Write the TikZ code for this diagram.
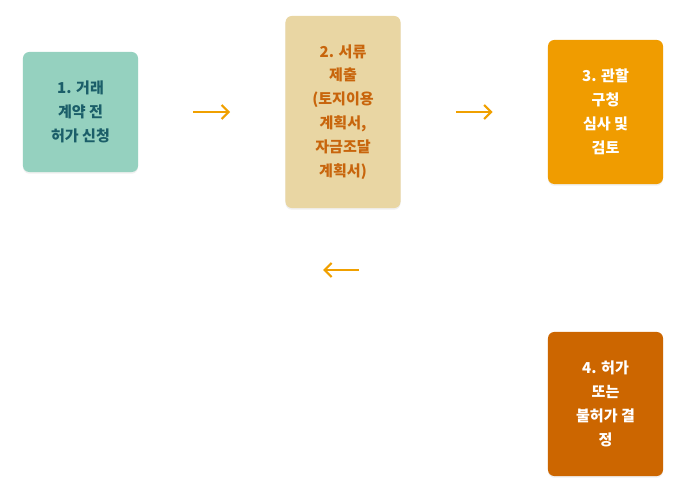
\documentclass[tikz,border=0pt]{standalone}
\usepackage{fontspec}
\setmainfont{Noto Sans CJK KR}
\usetikzlibrary{arrows.meta,positioning,shadows}
\definecolor{mintfill}{HTML}{95D1BF}
\definecolor{minttext}{HTML}{1B5E69}
\definecolor{sandfill}{HTML}{E9D6A3}
\definecolor{sandtext}{HTML}{C8650C}
\definecolor{ambfill}{HTML}{F09C00}
\definecolor{rustfill}{HTML}{CC6600}
\definecolor{arrowamb}{HTML}{F0A000}
\tikzset{
  stepbox/.style={rounded corners=4.5pt,minimum width=2.875cm,minimum height=3cm,
    align=center,font=\bfseries\fontsize{10.7}{17}\selectfont,
    drop shadow={shadow xshift=0pt,shadow yshift=-1.2pt,opacity=0.12}},
  flow/.style={arrowamb,line width=1.6pt,-{Straight Barb[length=5pt,width=10pt,line width=1.6pt]}}
}
\begin{document}
\begin{tikzpicture}[x=0.025cm,y=-0.025cm]
\useasboundingbox (0,0) rectangle (684,484);
% boxes
\node[stepbox,fill=mintfill,text=minttext](apply) at (80.5,112){1. 거래\\계약 전\\허가 신청};
\node[stepbox,fill=sandfill,text=sandtext,minimum height=4.8cm](docs) at (343,112){2. 서류\\제출\\(토지이용\\계획서,\\자금조달\\계획서)};
\node[stepbox,fill=ambfill,text=white,minimum height=3.6cm](review) at (605.5,112){3. 관할\\구청\\심사 및\\검토};
\node[stepbox,fill=rustfill,text=white,minimum height=3.6cm](decide) at (605.5,404){4. 허가\\또는\\불허가 결\\정};
% arrows
\coordinate (backR) at (359,270);
\coordinate (backL) at (323,270);
\draw[flow,shorten <=1.375cm,shorten >=1.375cm](apply)--(docs);
\draw[flow,shorten <=1.375cm,shorten >=1.375cm](docs)--(review);
\draw[flow](backR)--(backL);
\end{tikzpicture}
\end{document}
